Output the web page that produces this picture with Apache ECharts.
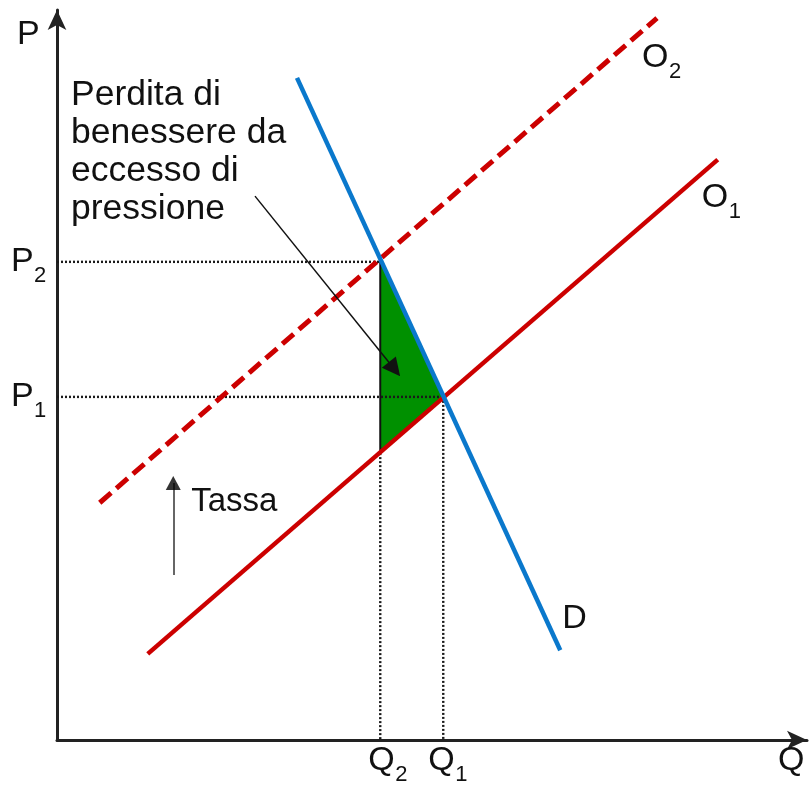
<!DOCTYPE html>
<html>
<head>
<meta charset="utf-8">
<script src="https://cdn.jsdelivr.net/npm/echarts@6/dist/echarts.min.js"></script>
<style>
  html, body { margin: 0; padding: 0; background: #fff; }
  #chart { width: 809px; height: 785px; }
</style>
</head>
<body>
<div id="chart"></div>
<script>
// Quantities and prices at the two equilibria
const Q2 = 43.1, Q1 = 51.5;
const P2 = 65.5, P1 = 47.0;
const P_at_Q2_on_O1 = 39.3;

// Curves (endpoints in chart units)
const demandD = [[32.0, 90.7], [67.1, 12.3]];
const supplyO1 = [[12.1, 11.8], [88.1, 79.5]];
const supplyO2 = [[5.7, 32.5], [80.0, 98.9]];

// Deadweight-loss triangle
const lossArea = [[Q2, P2], [Q1, P1], [Q2, P_at_Q2_on_O1]];

// Guide lines
const guideP2 = [[0, P2], [Q2, P2]];
const guideP1 = [[0, P1], [Q1, P1]];
const guideQ2 = [[Q2, P_at_Q2_on_O1], [Q2, 0]];
const guideQ1 = [[Q1, P1], [Q1, 0]];

// Arrows
const noteArrow = [[26.4, 74.5], [45.0, 50.8]];
const taxArrow = [[15.5, 22.6], [15.5, 35.2]];

const FONT = '"Liberation Sans", Arial, sans-serif';
const INK = '#111';

const chart = echarts.init(document.getElementById('chart'));

function lineSeries(data, color, width, type, z) {
  return {
    type: 'line', data: data, symbol: 'none', silent: true, z: z || 2,
    lineStyle: { color: color, width: width, type: type || 'solid' },
    animation: false
  };
}

const dotted = [2, 2];

chart.setOption({
  animation: false,
  grid: { left: 57, right: 2, top: 10, bottom: 45 },
  xAxis: {
    type: 'value', min: 0, max: 100,
    axisLine: { show: true, symbol: ['none', 'arrow'], symbolSize: [14, 20], lineStyle: { color: '#222', width: 3 } },
    axisTick: { show: false }, axisLabel: { show: false }, splitLine: { show: false }
  },
  yAxis: {
    type: 'value', min: 0, max: 100,
    axisLine: { show: true, symbol: ['none', 'arrow'], symbolSize: [14, 20], lineStyle: { color: '#222', width: 3 } },
    axisTick: { show: false }, axisLabel: { show: false }, splitLine: { show: false }
  },
  series: [
    {
      type: 'custom', silent: true, z: 1,
      renderItem: function (params, api) {
        const pts = lossArea.map(p => api.coord(p));
        return {
          type: 'polygon',
          shape: { points: pts },
          style: { fill: '#009000', stroke: null }
        };
      },
      data: [0]
    },
    lineSeries(guideP2, '#1a1a1a', 2.4, dotted),
    lineSeries(guideP1, '#1a1a1a', 2.4, dotted, 3),
    lineSeries(guideQ2, '#1a1a1a', 2.4, dotted),
    lineSeries(guideQ1, '#1a1a1a', 2.4, dotted),
    lineSeries([[Q2, P2], [Q2, P_at_Q2_on_O1]], INK, 2, 'solid'),
    lineSeries(supplyO2, '#cc0000', 5, [15, 7], 4),
    lineSeries(supplyO1, '#cc0000', 4.5, 'solid', 4),
    lineSeries(demandD, '#0a78cc', 4.5, 'solid', 5),
    {
      type: 'lines', coordinateSystem: 'cartesian2d', silent: true, z: 6,
      symbol: ['none', 'triangle'], symbolSize: [15, 18],
      lineStyle: { color: '#111', width: 1.5, opacity: 1 },
      data: [{ coords: noteArrow }]
    },
    {
      type: 'lines', coordinateSystem: 'cartesian2d', silent: true, z: 6,
      symbol: ['none', 'none'],
      lineStyle: { color: '#666', width: 2, opacity: 1 },
      data: [{ coords: taxArrow }]
    },
    {
      type: 'scatter', silent: true, z: 7,
      symbol: 'triangle', symbolSize: [15, 14],
      itemStyle: { color: '#000' },
      data: [taxArrow[1]]
    }
  ]
});

// Text labels, anchored to chart coordinates
function px(p) { return chart.convertToPixel({ gridIndex: 0 }, p); }

function label(x, y, main, sub) {
  const out = [];
  out.push({
    type: 'text', x: x, y: y, z: 10,
    style: { text: main, font: '34px ' + FONT, fill: INK, textAlign: 'left', textVerticalAlign: 'bottom' }
  });
  if (sub) {
    out.push({
      type: 'text', x: x + (main === 'P' ? 23 : 27), y: y + 8, z: 10,
      style: { text: sub, font: '22px ' + FONT, fill: INK, textAlign: 'left', textVerticalAlign: 'bottom' }
    });
  }
  return out;
}

const origin = px([0, 0]);
const pP2 = px([0, P2]), pP1 = px([0, P1]);
const pQ2 = px([Q2, 0]), pQ1 = px([Q1, 0]);
const pO2 = px(supplyO2[1]), pO1 = px(supplyO1[1]);
const pD = px(demandD[1]);
const pTax = px(taxArrow[1]);

let graphics = [];
graphics = graphics.concat(label(origin[0] - 40, 52, 'P'));
graphics = graphics.concat(label(pP2[0] - 46, pP2[1] + 17, 'P', '2'));
graphics = graphics.concat(label(pP1[0] - 46, pP1[1] + 17, 'P', '1'));
graphics = graphics.concat(label(pQ2[0] - 12, pQ2[1] + 38, 'Q', '2'));
graphics = graphics.concat(label(pQ1[0] - 15, pQ1[1] + 38, 'Q', '1'));
graphics = graphics.concat(label(origin[0] + 721, origin[1] + 38, 'Q'));
graphics = graphics.concat(label(pO2[0] - 15, pO2[1] + 57, 'O', '2'));
graphics = graphics.concat(label(pO1[0] - 16, pO1[1] + 55, 'O', '1'));
graphics = graphics.concat(label(pD[0] + 2, pD[1] - 15, 'D'));
graphics.push({
  type: 'text', x: pTax[0] + 18, y: pTax[1] + 35, z: 10,
  style: { text: 'Tassa', font: '33px ' + FONT, fill: INK, textAlign: 'left', textVerticalAlign: 'bottom' }
});
graphics.push({
  type: 'text', x: 71, y: 76, z: 10,
  style: {
    text: 'Perdita di\nbenessere da\neccesso di\npressione',
    font: '35.5px ' + FONT, lineHeight: 38, fill: INK, textAlign: 'left', textVerticalAlign: 'top'
  }
});

chart.setOption({ graphic: graphics });
</script>
</body>
</html>
